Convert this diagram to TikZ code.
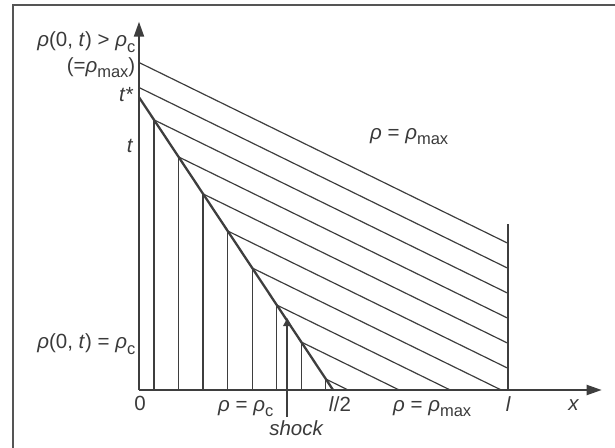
\documentclass[tikz,border=0pt]{standalone}
\usepackage{fontspec}
\setmainfont{Liberation Sans}
\usetikzlibrary{arrows.meta}
\definecolor{ink}{RGB}{62,62,62}
\definecolor{txt}{RGB}{58,58,58}
\definecolor{framec}{RGB}{85,85,85}
\newcommand{\rh}{\textit{ρ}}
\newcommand{\lowsub}[1]{\raisebox{-5.5pt}{\fontsize{16.5}{16.5}\selectfont #1}}
\begin{document}
\begin{tikzpicture}[x=1pt,y=-1pt,
  axis/.style={draw=ink,line width=2pt,-{Triangle[length=15pt,width=10pt]}},
  charline/.style={draw=ink,line width=1.2pt},
  shockline/.style={draw=ink,line width=2.3pt},
  shockarrow/.style={draw=ink,line width=2pt,-{Triangle[length=8pt,width=8pt]}},
  lbl/.style={text=txt,inner sep=0pt,font=\fontsize{20.5}{24}\selectfont}]
\useasboundingbox (0,0) rectangle (615,447);
\draw[framec,line width=1.6pt] (630,5) -- (13,5) -- (13,460);
% characteristic lines and vertical lines
\foreach \k in {0,...,9} {
  \pgfmathsetmacro\b{62.5+25*\k}
  \pgfmathsetmacro\xs{\k<2 ? 139 : 139+(\b-97.2)/1.019}
  \pgfmathsetmacro\ys{\b+0.49*(\xs-139)}
  \pgfmathsetmacro\ye{\b+0.49*369}
  \pgfmathsetmacro\xe{\ye>390 ? 139+(390-\b)/0.49 : 508}
  \pgfmathsetmacro\yee{min(\ye,390)}
  \coordinate (s\k) at (\xs,\ys);
  \coordinate (e\k) at (\xe,\yee);
  \draw[charline] (s\k) -- (e\k);
  \ifnum\k>1
    \coordinate (f\k) at (\xs,390);
    \draw[charline] (s\k) -- (f\k);
  \fi
}
% shock
\coordinate (tstar) at (139,97.2);
\coordinate (shockend) at (333.1,390);
\draw[shockline] (tstar) -- (shockend);
% l line
\coordinate (ltop) at (508,224);
\coordinate (lbot) at (508,390);
\draw[ink,line width=1.4pt] (lbot) -- (ltop);
% axes
\coordinate (O) at (139,390);
\coordinate (ytip) at (139,21.7);
\coordinate (xtip) at (601.7,390);
\draw[axis] (O) -- (ytip);
\draw[axis] (O) -- (xtip);
% shock arrow
\coordinate (sa) at (287.3,417);
\coordinate (sb) at (287.3,318);
\draw[shockarrow] (sa) -- (sb);
% labels
\node[lbl,anchor=base east] (l1) at (135.5,46.7) {\rh(0, \textit{t}) > \rh\lowsub{c}};
\node[lbl,anchor=base east] (l2) at (135.5,72.2) {(=\rh\lowsub{max})};
\node[lbl,anchor=base east] (l3) at (133.5,101.5) {\textit{t*}};
\node[lbl,anchor=base east] (l4) at (133.5,152.7) {\textit{t}};
\node[lbl,anchor=base east] (l5) at (135.5,348.8) {\rh(0, \textit{t}) = \rh\lowsub{c}};
\node[lbl,anchor=base west] (l6) at (370,139.3) {\rh{} = \rh\lowsub{max}};
\node[lbl,anchor=base] (l7) at (140,410) {0};
\node[lbl,anchor=base west] (l8) at (218,411) {\rh{} = \rh\lowsub{c}};
\node[lbl,anchor=base] (l9) at (340,411) {\textit{l}/2};
\node[lbl,anchor=base west] (l10) at (393,411) {\rh{} = \rh\lowsub{max}};
\node[lbl,anchor=base] (l11) at (508.3,411) {\textit{l}};
\node[lbl,anchor=base] (l12) at (573.8,410) {\textit{x}};
\node[lbl,anchor=base] (l13) at (296.5,435) {\textit{shock}};
\end{tikzpicture}
\end{document}
